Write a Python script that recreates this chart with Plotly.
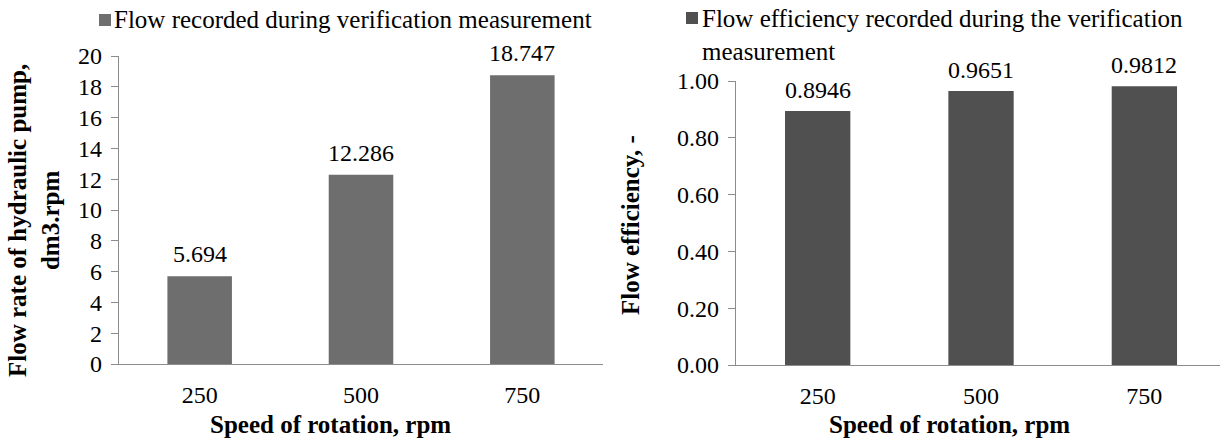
import plotly.graph_objects as go

# Rotation speeds (categories) shared by both panels
speeds = ["250", "500", "750"]

# Measured flow of the hydraulic pump, dm3 per revolution
flow_rate = [5.694, 12.286, 18.747]

# Flow efficiency obtained in the same measurement
flow_eff = [0.8946, 0.9651, 0.9812]

flow_ticks = [0, 2, 4, 6, 8, 10, 12, 14, 16, 18, 20]
eff_ticks = [0.0, 0.2, 0.4, 0.6, 0.8, 1.0]

W, H = 1220, 439
FONT = "Liberation Serif, Times New Roman, serif"
FS = 24
FS_TITLE = 25
AXIS_GREY = "#8c8c8c"
LEFT_BAR = "#6e6e6e"
RIGHT_BAR = "#505050"


def px_x(v):
    return v / W


def px_y(v):
    return 1 - v / H


fig = go.Figure()

fig.add_trace(go.Bar(
    x=speeds, y=flow_rate, xaxis="x", yaxis="y",
    marker=dict(color=LEFT_BAR, line=dict(width=0)),
    width=0.4, showlegend=False, hoverinfo="x+y",
))
fig.add_trace(go.Bar(
    x=speeds, y=flow_eff, xaxis="x2", yaxis="y2",
    marker=dict(color=RIGHT_BAR, line=dict(width=0)),
    width=0.4, showlegend=False, hoverinfo="x+y",
))

tickfont = dict(family=FONT, size=FS, color="#000000")

common_x = dict(
    type="category", showline=True, linecolor=AXIS_GREY, linewidth=1.3,
    ticks="", showgrid=False, zeroline=False, tickfont=tickfont,
    ticklabelstandoff=9, fixedrange=True, automargin=False,
)
common_y = dict(
    showline=True, linecolor=AXIS_GREY, linewidth=1.3, ticks="outside",
    ticklen=7, tickcolor=AXIS_GREY, tickwidth=1.3, showgrid=False,
    zeroline=False, tickfont=tickfont, ticklabelstandoff=4, fixedrange=True,
    automargin=False,
)

fig.update_layout(
    width=W, height=H,
    margin=dict(l=0, r=0, t=0, b=0, autoexpand=False),
    paper_bgcolor="white", plot_bgcolor="white",
    font=dict(family=FONT, color="#000000"),
    bargap=0.6,
    xaxis=dict(common_x, domain=[px_x(119), px_x(603)], range=[-0.5, 2.5],
               anchor="y"),
    yaxis=dict(common_y, domain=[px_y(364), px_y(56)], range=[0, 20],
               tickvals=flow_ticks, ticktext=[str(t) for t in flow_ticks],
               anchor="x"),
    xaxis2=dict(common_x, domain=[px_x(736), 1.0], range=[-0.5, 2.463],
                anchor="y2"),
    yaxis2=dict(common_y, domain=[px_y(365), px_y(81)], range=[0, 1],
                tickvals=eff_ticks, ticktext=[f"{t:.2f}" for t in eff_ticks],
                anchor="x2"),
)

annotations = []

# Value labels above the bars (category index as x position)
for i, val in enumerate(flow_rate):
    annotations.append(dict(
        x=i, y=val, xref="x", yref="y", text=f"{val:.3f}",
        showarrow=False, yanchor="middle", yshift=22,
        font=dict(family=FONT, size=FS, color="#000000"),
    ))
for i, val in enumerate(flow_eff):
    annotations.append(dict(
        x=i, y=val, xref="x2", yref="y2", text=f"{val:.4f}",
        showarrow=False, yanchor="middle", yshift=21,
        font=dict(family=FONT, size=FS, color="#000000"),
    ))

title_font = dict(family=FONT, size=FS_TITLE, color="#000000", weight="bold")

# Axis titles
annotations += [
    dict(x=px_x(330), y=px_y(424), xref="paper", yref="paper",
         text="Speed of rotation, rpm", showarrow=False,
         xanchor="center", yanchor="middle", font=title_font),
    dict(x=px_x(949), y=px_y(424), xref="paper", yref="paper",
         text="Speed of rotation, rpm", showarrow=False,
         xanchor="center", yanchor="middle", font=title_font),
    dict(x=px_x(34), y=px_y(221), xref="paper", yref="paper",
         text="Flow rate of hydraulic pump,<br>dm3.rpm", showarrow=False,
         textangle=-90, xanchor="center", yanchor="middle",
         align="center", font=title_font),
    dict(x=px_x(630), y=px_y(225), xref="paper", yref="paper",
         text="Flow efficiency, -", showarrow=False,
         textangle=-90, xanchor="center", yanchor="middle",
         font=title_font),
]

# Legend entries (swatch + text)
legend_font = dict(family=FONT, size=FS_TITLE, color="#000000")
annotations += [
    dict(x=px_x(112), y=px_y(20), xref="paper", yref="paper",
         text="Flow recorded during verification measurement",
         showarrow=False, xanchor="left", yanchor="middle",
         font=legend_font),
    dict(x=px_x(700), y=px_y(3), xref="paper", yref="paper",
         text="Flow efficiency recorded during the verification<br>measurement",
         showarrow=False, xanchor="left", yanchor="top", align="left",
         font=legend_font),
]

shapes = [
    dict(type="rect", xref="paper", yref="paper",
         x0=px_x(99), x1=px_x(111), y0=px_y(26), y1=px_y(14),
         fillcolor=LEFT_BAR, line=dict(width=0)),
    dict(type="rect", xref="paper", yref="paper",
         x0=px_x(686), x1=px_x(698), y0=px_y(24), y1=px_y(12),
         fillcolor=RIGHT_BAR, line=dict(width=0)),
]

fig.update_layout(annotations=annotations, shapes=shapes)

fig.write_html("out.html")
